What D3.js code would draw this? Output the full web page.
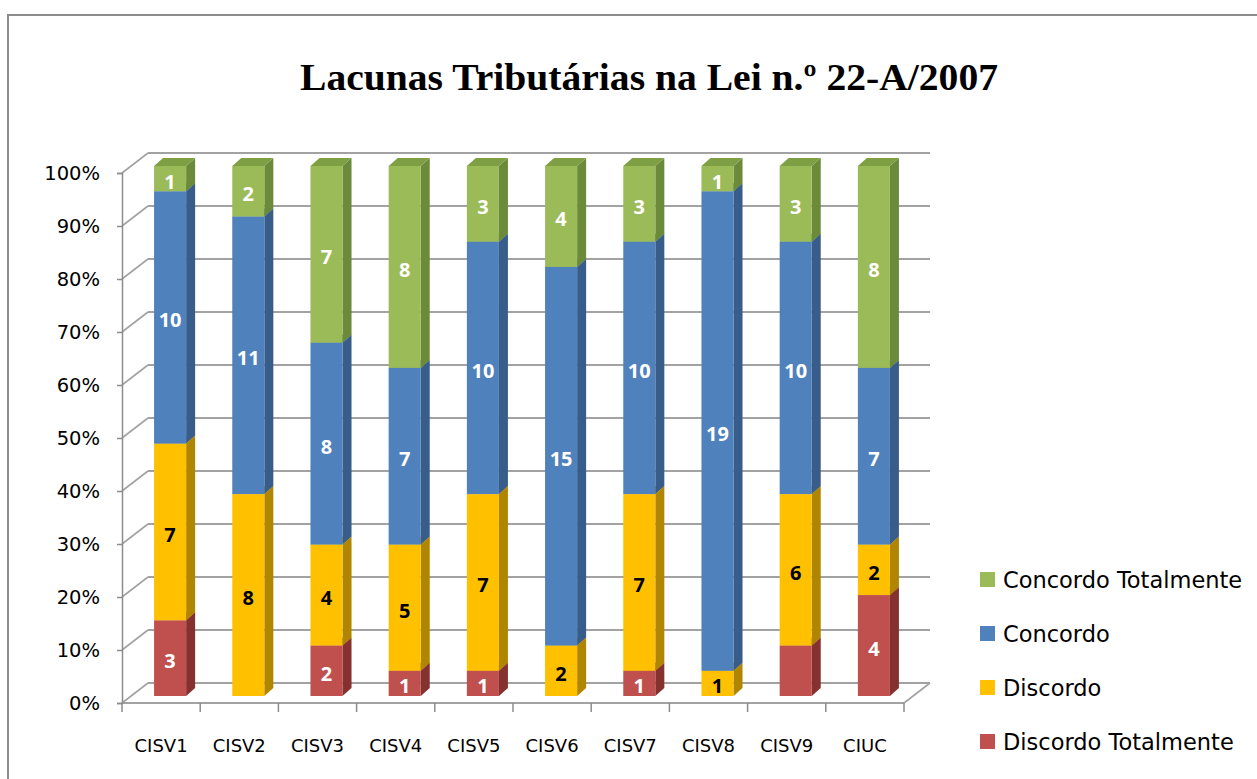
<!DOCTYPE html>
<html>
<head>
<meta charset="utf-8">
<script src="https://cdn.jsdelivr.net/npm/d3@7"></script>
<style>
  body { margin: 0; background: #fff; }
  text { font-family: "DejaVu Sans", sans-serif; }
</style>
</head>
<body>
<div id="chart-area"></div>
<script>
// Data
var categories = ["CISV1", "CISV2", "CISV3", "CISV4", "CISV5", "CISV6", "CISV7", "CISV8", "CISV9", "CIUC"];
var series = ["Discordo Totalmente", "Discordo", "Concordo", "Concordo Totalmente"];
var discordoTotalmente  = [3, 0, 2, 1, 1, 0, 1, 0, 2, 4];
var discordo            = [7, 8, 4, 5, 7, 2, 7, 1, 6, 2];
var concordo            = [10, 11, 8, 7, 10, 15, 10, 19, 10, 7];
var concordoTotalmente  = [1, 2, 7, 8, 3, 4, 3, 1, 3, 8];
var yTicks = [0, 0.1, 0.2, 0.3, 0.4, 0.5, 0.6, 0.7, 0.8, 0.9, 1];
// labels the original chart leaves out
var hiddenLabels = [["CISV9", "Discordo Totalmente"]];

var colors = {
    "Discordo Totalmente": { front: "#C0504D", side: "#85312F", top: "#A5413E" },
    "Discordo":            { front: "#FFC000", side: "#B08500", top: "#D9A300" },
    "Concordo":            { front: "#4F81BD", side: "#385D8A", top: "#44709F" },
    "Concordo Totalmente": { front: "#9BBB59", side: "#6B8A3A", top: "#7F9F45" }
};
var labelColor = { "Discordo Totalmente": "#fff", "Discordo": "#000", "Concordo": "#fff", "Concordo Totalmente": "#fff" };

var rows = categories.map(function(c, i) {
    return {
        cat: c,
        "Discordo Totalmente": discordoTotalmente[i],
        "Discordo": discordo[i],
        "Concordo": concordo[i],
        "Concordo Totalmente": concordoTotalmente[i]
    };
});

var width = 1257, height = 779;
var svg = d3.select("#chart-area").append("svg")
    .attr("width", width)
    .attr("height", height);

// outer frame
svg.append("rect")
    .attr("x", 8).attr("y", 15)
    .attr("width", 1300).attr("height", 800)
    .attr("fill", "none")
    .attr("stroke", "#8c8c8c")
    .attr("stroke-width", 2);

// Title
svg.append("text")
    .attr("x", 649).attr("y", 90)
    .attr("text-anchor", "middle")
    .attr("textLength", 698)
    .attr("lengthAdjust", "spacingAndGlyphs")
    .style("font-family", "'Liberation Serif', 'Times New Roman', serif")
    .style("font-weight", "bold")
    .style("font-size", "38px")
    .text("Lacunas Tributárias na Lei n.º 22-A/2007");

// Scales
var x = d3.scaleBand().domain(categories).range([122, 904])
    .paddingInner(0.59).paddingOuter(0.295);
var y = d3.scaleLinear().domain([0, 1]).range([703, 173]);

// 3D offsets
var wall = { dx: 26, dy: -20 };   // back wall
var plane = { dx: 9, dy: -7 };    // front of bars
var depth = { dx: 9, dy: -8 };    // bar depth

var g = svg.append("g");

// back wall gridlines + side wall diagonals
var gridColor = "#a2a2a2";
yTicks.forEach(function(t) {
    g.append("line")
        .attr("x1", 122).attr("y1", y(t))
        .attr("x2", 122 + wall.dx).attr("y2", y(t) + wall.dy)
        .attr("stroke", gridColor).attr("stroke-width", 1.6);
    g.append("line")
        .attr("x1", 122 + wall.dx).attr("y1", y(t) + wall.dy)
        .attr("x2", 904 + wall.dx).attr("y2", y(t) + wall.dy)
        .attr("stroke", gridColor).attr("stroke-width", 2);
});

// floor front edge + right diagonal
g.append("line")
    .attr("x1", 122).attr("y1", y(0)).attr("x2", 904).attr("y2", y(0))
    .attr("stroke", gridColor).attr("stroke-width", 2);
g.append("line")
    .attr("x1", 904).attr("y1", y(0)).attr("x2", 904 + wall.dx).attr("y2", y(0) + wall.dy)
    .attr("stroke", gridColor).attr("stroke-width", 1.6);

// Y axis
var yAxis = g.append("g")
    .attr("transform", "translate(122,0)")
    .call(d3.axisLeft(y).tickValues(yTicks).tickFormat(d3.format(".0%"))
        .tickSize(5).tickPadding(17));
yAxis.select(".domain").attr("stroke", "#8c8c8c").attr("stroke-width", 1.5);
yAxis.selectAll(".tick line").attr("stroke", "#8c8c8c").attr("stroke-width", 1.5);
yAxis.selectAll(".tick text")
    .style("font-family", "'DejaVu Sans', sans-serif")
    .style("font-size", "19.5px")
    .attr("fill", "#000");

// X axis ticks at band boundaries
var step = x.step();
var xTicks = d3.range(categories.length + 1).map(function(i) { return 122 + i * step; });
g.selectAll(".xtick").data(xTicks).enter().append("line")
    .attr("class", "xtick")
    .attr("x1", function(d) { return d; }).attr("x2", function(d) { return d; })
    .attr("y1", y(0)).attr("y2", y(0) + 9)
    .attr("stroke", "#8c8c8c").attr("stroke-width", 1.5);
g.selectAll(".xlabel").data(categories).enter().append("text")
    .attr("class", "xlabel")
    .attr("x", function(d) { return x(d) + x.bandwidth() / 2; })
    .attr("y", 752)
    .attr("text-anchor", "middle")
    .style("font-size", "18px")
    .text(function(d) { return d; });

// Stack
var stack = d3.stack().keys(series).offset(d3.stackOffsetExpand);
var stacked = stack(rows);

var bars = g.append("g");
stacked.forEach(function(layer) {
    var key = layer.key;
    layer.forEach(function(d, i) {
        var val = d.data[key];
        if (!val) return;
        var x0 = x(d.data.cat) + plane.dx,
            x1 = x0 + x.bandwidth(),
            yb = y(d[0]) + plane.dy,
            yt = y(d[1]) + plane.dy;
        var c = colors[key];
        // side
        bars.append("path")
            .attr("d", "M" + x1 + "," + yb + "L" + (x1 + depth.dx) + "," + (yb + depth.dy) +
                "L" + (x1 + depth.dx) + "," + (yt + depth.dy) + "L" + x1 + "," + yt + "Z")
            .attr("fill", c.side);
        // top
        bars.append("path")
            .attr("d", "M" + x0 + "," + yt + "L" + x1 + "," + yt +
                "L" + (x1 + depth.dx) + "," + (yt + depth.dy) + "L" + (x0 + depth.dx) + "," + (yt + depth.dy) + "Z")
            .attr("fill", c.top);
        // front
        bars.append("rect")
            .attr("x", x0).attr("y", yt)
            .attr("width", x.bandwidth()).attr("height", yb - yt)
            .attr("fill", c.front);
    });
});

// data labels
var labels = g.append("g");
stacked.forEach(function(layer) {
    var key = layer.key;
    layer.forEach(function(d) {
        var val = d.data[key];
        if (!val) return;
        var hidden = hiddenLabels.some(function(h) { return h[0] == d.data.cat && h[1] == key; });
        if (hidden) return;
        labels.append("text")
            .attr("x", x(d.data.cat) + plane.dx + x.bandwidth() / 2)
            .attr("y", (y(d[0]) + y(d[1])) / 2 + plane.dy)
            .attr("dy", "0.5em")
            .attr("text-anchor", "middle")
            .attr("fill", labelColor[key])
            .style("font-family", "'Noto Sans', sans-serif")
            .style("font-weight", "bold")
            .style("font-size", "20px")
            .text(val);
    });
});

// Legend
var legendOrder = series.slice().reverse();
var legend = svg.append("g").selectAll("g").data(legendOrder).enter().append("g")
    .attr("transform", function(d, i) { return "translate(980," + (572 + i * 54) + ")"; });
legend.append("rect")
    .attr("width", 15).attr("height", 15)
    .attr("fill", function(d) { return colors[d].front; });
legend.append("text")
    .attr("x", 23).attr("y", 16)
    .style("font-size", "22.5px")
    .text(function(d) { return d; });
</script>
</body>
</html>
